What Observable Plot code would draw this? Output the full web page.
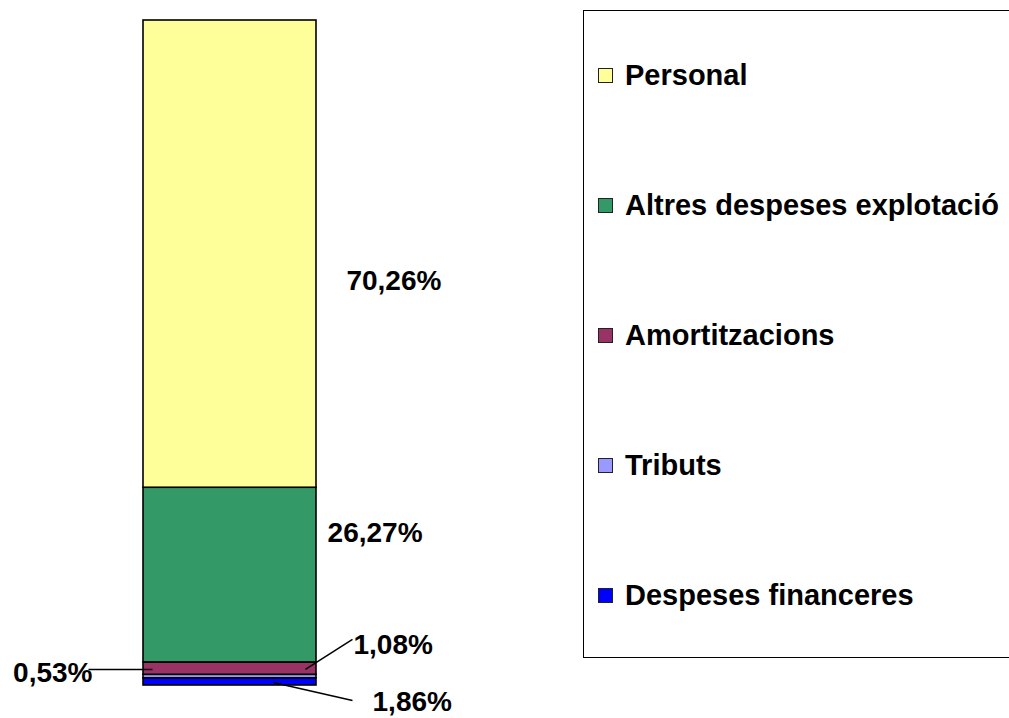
<!DOCTYPE html>
<html>
<head>
<meta charset="utf-8">
<script src="https://cdn.jsdelivr.net/npm/d3@7"></script>
<script src="https://cdn.jsdelivr.net/npm/@observablehq/plot@0.6"></script>
<style>
  html, body { margin: 0; padding: 0; background: #fff; }
  #wrap { position: relative; width: 1009px; height: 718px; overflow: hidden;
          font-family: "Liberation Sans", Arial, sans-serif; }
  #chart { position: absolute; left: 0; top: 0; }
  #legend { position: absolute; left: 583px; top: 10px; width: 500px; height: 646px;
            border: 1.5px solid #000; background: #fff; }
  .item { position: absolute; left: 14px; height: 30px; display: flex; align-items: center;
          font-weight: bold; font-size: 29px; color: #000; white-space: nowrap; }
  .sw { width: 13px; height: 13px; border: 1px solid #222; margin-right: 12px; }
</style>
</head>
<body>
<div id="wrap">
  <div id="chart"></div>
  <div id="legend"></div>
</div>
<script>
// Data (stack order, bottom to top)
const categories = ["Despeses financeres", "Tributs", "Amortitzacions", "Altres despeses explotació", "Personal"];
const values = [1.08, 0.53, 1.86, 26.27, 70.26];
const labels = ["1,08%", "0,53%", "1,86%", "26,27%", "70,26%"];
const colors = ["#0000FF", "#9999FF", "#993366", "#339966", "#FFFF99"];

// Label placement (x: bar-width units, 0..1 = bar; y: percent units)
const labelX = [1.214, -0.295, 1.324, 1.064, 1.173];
const labelY = [6.02, 1.95, -2.56, 22.86, 60.75];
const labelAnchor = ["start", "end", "start", "start", "start"];
// Leader lines for the small segments
const leaderFrom = [[1.208, 6.92], [-0.318, 2.41], [1.208, -2.26]];
const leaderTo = [[0.936, 2.41], [0.052, 2.41], [0.751, 0.45]];

const rows = categories.map((c, i) => ({cat: c, value: values[i]}));
const labelRows = labels.map((t, i) => ({label: t, lx: labelX[i], ly: labelY[i], anchor: labelAnchor[i]}));
const leaderRows = leaderFrom.map((f, i) => ({x1: f[0], y1: f[1], x2: leaderTo[i][0], y2: leaderTo[i][1]}));

const W = 570, H = 718;
const plot = Plot.plot({
  width: W, height: H,
  marginLeft: 143, marginRight: W - 316, marginTop: 20, marginBottom: 33,
  style: {fontFamily: "'Liberation Sans', Arial, sans-serif", background: "transparent", overflow: "visible"},
  x: {domain: [0, 1], axis: null},
  y: {domain: [0, 100], axis: null},
  color: {domain: categories, range: colors},
  marks: [
    Plot.rectY(rows, {x1: 0, x2: 1, y: "value", fill: "cat", stroke: "#000", strokeWidth: 1.6}),
    Plot.link(leaderRows, {x1: "x1", y1: "y1", x2: "x2", y2: "y2", stroke: "#000", strokeWidth: 1.5}),
    Plot.text(labelRows.filter(d => d.anchor === "start"), {x: "lx", y: "ly", text: "label", textAnchor: "start", fontSize: 28, fontWeight: "bold", fill: "#000"}),
    Plot.text(labelRows.filter(d => d.anchor === "end"), {x: "lx", y: "ly", text: "label", textAnchor: "end", fontSize: 28, fontWeight: "bold", fill: "#000"})
  ]
});
document.getElementById("chart").appendChild(plot);

// Legend (top to bottom = reverse stack order)
const legend = document.getElementById("legend");
const order = categories.map((c, i) => i).reverse();
order.forEach((i, k) => {
  const item = document.createElement("div");
  item.className = "item";
  item.style.top = (49 + 130 * k) + "px";
  const sw = document.createElement("span");
  sw.className = "sw";
  sw.style.background = colors[i];
  const tx = document.createElement("span");
  tx.textContent = categories[i];
  item.appendChild(sw);
  item.appendChild(tx);
  legend.appendChild(item);
});
</script>
</body>
</html>
